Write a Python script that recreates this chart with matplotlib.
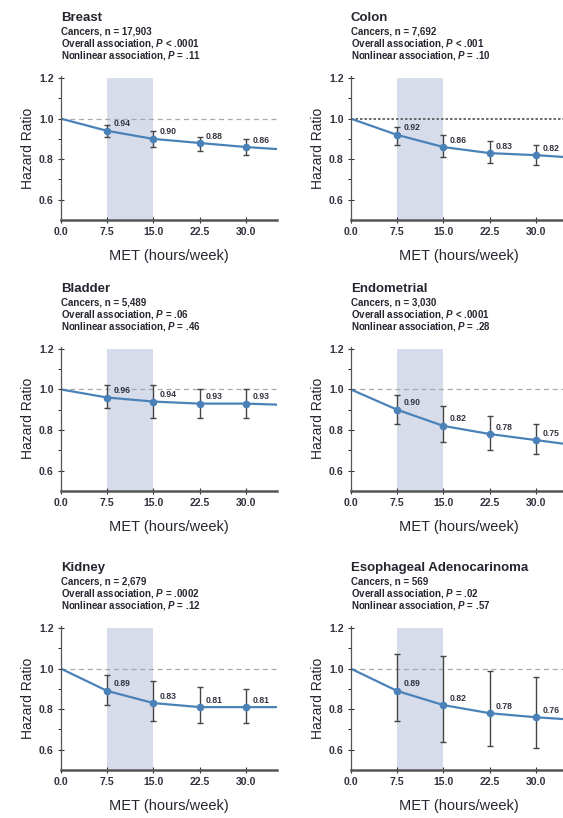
import matplotlib
matplotlib.use('Agg')
import matplotlib.pyplot as plt

plt.rcParams['font.family'] = ['Liberation Sans', 'DejaVu Sans']

# MET levels with estimated hazard ratios (reference 0 MET-h/week = 1.0)
met = [0.0, 7.5, 15.0, 22.5, 30.0, 35.0]
met_points = [7.5, 15.0, 22.5, 30.0]
x_ticks = [0.0, 7.5, 15.0, 22.5, 30.0]
y_ticks = [0.6, 0.8, 1.0, 1.2]

breast_curve = [1.0, 0.94, 0.90, 0.88, 0.86, 0.85]
breast_hr = [0.94, 0.90, 0.88, 0.86]
breast_lo = [0.91, 0.86, 0.84, 0.82]
breast_hi = [0.97, 0.94, 0.91, 0.90]

colon_curve = [1.0, 0.92, 0.86, 0.83, 0.82, 0.81]
colon_hr = [0.92, 0.86, 0.83, 0.82]
colon_lo = [0.87, 0.81, 0.78, 0.77]
colon_hi = [0.96, 0.92, 0.89, 0.87]

bladder_curve = [1.0, 0.96, 0.94, 0.93, 0.93, 0.925]
bladder_hr = [0.96, 0.94, 0.93, 0.93]
bladder_lo = [0.91, 0.86, 0.86, 0.86]
bladder_hi = [1.02, 1.02, 1.00, 1.00]

endo_curve = [1.0, 0.90, 0.82, 0.78, 0.75, 0.73]
endo_hr = [0.90, 0.82, 0.78, 0.75]
endo_lo = [0.83, 0.74, 0.70, 0.68]
endo_hi = [0.97, 0.92, 0.87, 0.83]

kidney_curve = [1.0, 0.89, 0.83, 0.81, 0.81, 0.81]
kidney_hr = [0.89, 0.83, 0.81, 0.81]
kidney_lo = [0.82, 0.74, 0.73, 0.73]
kidney_hi = [0.97, 0.94, 0.91, 0.90]

eso_curve = [1.0, 0.89, 0.82, 0.78, 0.76, 0.75]
eso_hr = [0.89, 0.82, 0.78, 0.76]
eso_lo = [0.74, 0.64, 0.62, 0.61]
eso_hi = [1.07, 1.06, 0.99, 0.96]

panels = [
    ('Breast', ['Cancers, n = 17,903', 'Overall association, $\\it{P}$ < .0001',
                'Nonlinear association, $\\it{P}$ = .11'],
     breast_curve, breast_hr, breast_lo, breast_hi),
    ('Colon', ['Cancers, n = 7,692', 'Overall association, $\\it{P}$ < .001',
               'Nonlinear association, $\\it{P}$ = .10'],
     colon_curve, colon_hr, colon_lo, colon_hi),
    ('Bladder', ['Cancers, n = 5,489', 'Overall association, $\\it{P}$ = .06',
                 'Nonlinear association, $\\it{P}$ = .46'],
     bladder_curve, bladder_hr, bladder_lo, bladder_hi),
    ('Endometrial', ['Cancers, n = 3,030', 'Overall association, $\\it{P}$ < .0001',
                     'Nonlinear association, $\\it{P}$ = .28'],
     endo_curve, endo_hr, endo_lo, endo_hi),
    ('Kidney', ['Cancers, n = 2,679', 'Overall association, $\\it{P}$ = .0002',
                'Nonlinear association, $\\it{P}$ = .12'],
     kidney_curve, kidney_hr, kidney_lo, kidney_hi),
    ('Esophageal Adenocarinoma', ['Cancers, n = 569', 'Overall association, $\\it{P}$ = .02',
                                  'Nonlinear association, $\\it{P}$ = .57'],
     eso_curve, eso_hr, eso_lo, eso_hi),
]

line_blue = '#4a82b8'
shade = '#d6dcea'
dark = '#262630'

# the colon panel uses a darker dotted reference line
ref_styles = {'Colon': dict(color='#555555', lw=1.2, ls=(0, (1.5, 1.2)))}
ref_default = dict(color='#a8a8a8', lw=0.9, ls=(0, (4, 3)))

plt.rcParams['mathtext.fontset'] = 'custom'
plt.rcParams['mathtext.it'] = 'Liberation Sans:italic:bold'
plt.rcParams['mathtext.rm'] = 'Liberation Sans:bold'

fig = plt.figure(figsize=(5.63, 8.18), dpi=100)

lefts = [0.108, 0.623]
bottoms = [0.731, 0.400, 0.0587]
width, height = 0.384, 0.176

for i, (name, lines, curve, hr, lo, hi) in enumerate(panels):
    ax = fig.add_axes([lefts[i % 2], bottoms[i // 2], width, height])

    # 7.5-15 MET-h/week band
    ax.fill_between([7.5, 15.0], 0.5, 1.2, color=shade, lw=0, zorder=0)
    ax.axhline(1.0, zorder=1, **ref_styles.get(name, ref_default))

    ax.plot(met, curve, color=line_blue, lw=1.6, zorder=2)
    yerr = [[h - l for h, l in zip(hr, lo)], [u - h for h, u in zip(hr, hi)]]
    ax.errorbar(met_points, hr, yerr=yerr, fmt='none', ecolor='#444444',
                elinewidth=1.0, capsize=2.5, capthick=1.0, zorder=3)
    ax.plot(met_points, hr, 'o', color=line_blue, ms=4.5, zorder=4)
    for x, h in zip(met_points, hr):
        ax.annotate(f'{h:.2f}', (x, h), xytext=(4.5, 5), textcoords='offset points',
                    ha='left', va='center', fontsize=6.2, fontweight='bold',
                    color='#333340', zorder=5)

    ax.set_xlim(0, 35)
    ax.set_ylim(0.5, 1.21)
    ax.set_xticks(x_ticks)
    ax.set_xticklabels([f'{t:.1f}' for t in x_ticks], fontweight='bold')
    ax.set_yticks(y_ticks)
    ax.set_yticklabels([f'{t:.1f}' for t in y_ticks], fontweight='bold')
    ax.set_yticks([0.7, 0.9, 1.1], minor=True)
    ax.tick_params(axis='both', labelsize=7.6, colors='#333340', direction='inout',
                   length=4, width=0.8, pad=3)
    ax.tick_params(axis='y', which='minor', direction='out', length=2, width=0.6)
    for s in ['top', 'right']:
        ax.spines[s].set_visible(False)
    ax.spines['left'].set_color('#555555')
    ax.spines['left'].set_linewidth(0.9)
    ax.spines['bottom'].set_color('#555555')
    ax.spines['bottom'].set_linewidth(1.8)

    ax.set_ylabel('Hazard Ratio', fontsize=10, color=dark, labelpad=3)
    ax.set_xlabel('MET (hours/week)', fontsize=10.5, color=dark, labelpad=9)

    # panel heading above the axes
    ax.text(0.0, 1.405, name, transform=ax.transAxes, fontsize=9.5,
            fontweight='bold', color=dark, ha='left', va='center')
    for k, txt in enumerate(lines):
        ax.text(0.0, 1.308 - 0.083 * k, txt, transform=ax.transAxes,
                fontsize=7.0, fontweight='bold', color=dark, ha='left', va='center')

fig.savefig('out.png', dpi=100)
